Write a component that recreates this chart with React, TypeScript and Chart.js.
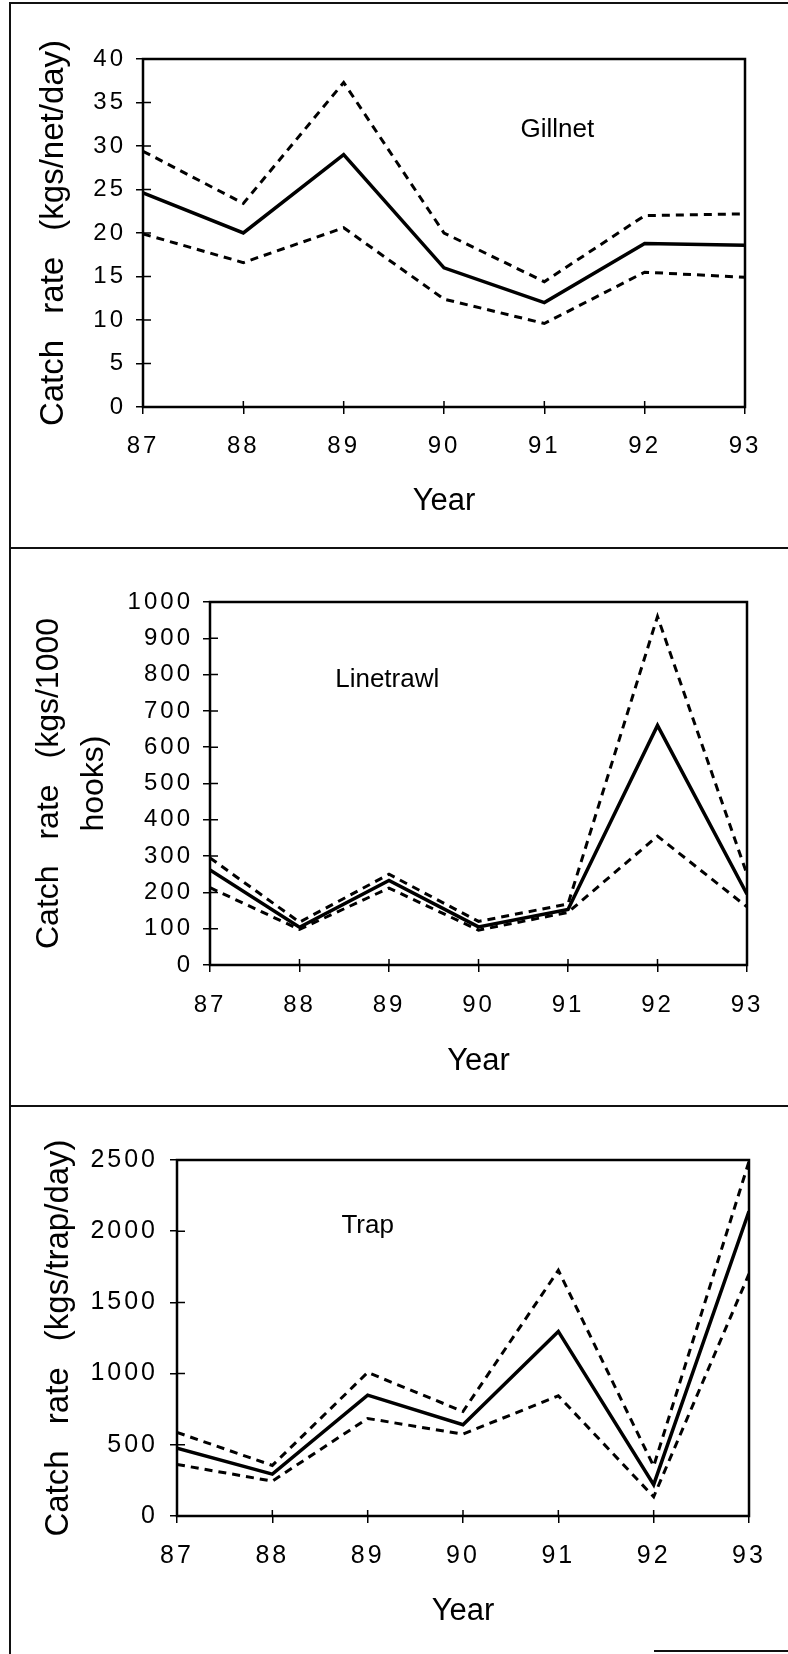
import React, { useEffect, useRef } from 'react';
import { Chart, registerables } from 'chart.js';

Chart.register(...registerables);

const FONT = "'Liberation Sans', Arial, Helvetica, sans-serif";

// ---- data ----
const YEARS = [87, 88, 89, 90, 91, 92, 93];

const GILLNET_Y_TICKS = [0, 5, 10, 15, 20, 25, 30, 35, 40];
const GILLNET_MEAN = [24.6, 20.0, 29.0, 16.0, 12.0, 18.8, 18.6];
const GILLNET_UPPER = [29.4, 23.4, 37.3, 20.0, 14.4, 22.0, 22.2];
const GILLNET_LOWER = [19.9, 16.6, 20.6, 12.4, 9.6, 15.5, 14.9];

const LINETRAWL_Y_TICKS = [0, 100, 200, 300, 400, 500, 600, 700, 800, 900, 1000];
const LINETRAWL_MEAN = [262, 104, 233, 105, 153, 660, 195];
const LINETRAWL_UPPER = [295, 118, 250, 120, 168, 960, 250];
const LINETRAWL_LOWER = [213, 98, 212, 96, 145, 355, 160];

const TRAP_Y_TICKS = [0, 500, 1000, 1500, 2000, 2500];
const TRAP_MEAN = [477, 294, 849, 641, 1296, 220, 2140];
const TRAP_UPPER = [587, 355, 1008, 734, 1725, 350, 2490];
const TRAP_LOWER = [362, 245, 685, 575, 844, 135, 1700];

// ---- panel layout (page pixels) ----
const PANELS = [
  {
    key: 'gillnet', top: 4, height: 543,
    plotTop: 59, plotBottom: 407, plotLeft: 143, plotRight: 745,
    mean: GILLNET_MEAN, upper: GILLNET_UPPER, lower: GILLNET_LOWER,
    yTicks: GILLNET_Y_TICKS,
    yTitle: 'Catch rate (kgs/net/day)', yTitleSize: 33, yTitleLH: 1.2, yTitlePad: 34,
    wordSpacing: 17, xTitlePad: 27, xTickPad: 18, yTickPad: 10, tickSize: 24,
    label: 'Gillnet', labelX: 91.13, labelY: 31.9,
  },
  {
    key: 'linetrawl', top: 549, height: 556,
    plotTop: 602, plotBottom: 965, plotLeft: 210, plotRight: 747,
    mean: LINETRAWL_MEAN, upper: LINETRAWL_UPPER, lower: LINETRAWL_LOWER,
    yTicks: LINETRAWL_Y_TICKS,
    yTitle: ['Catch rate (kgs/1000', 'hooks)'], yTitleSize: 32, yTitleLH: 1.4, yTitlePad: 27,
    wordSpacing: 17, xTitlePad: 25, xTickPad: 19, yTickPad: 10, tickSize: 24,
    label: 'Linetrawl', labelX: 88.98, labelY: 785,
  },
  {
    key: 'trap', top: 1107, height: 547,
    plotTop: 1160, plotBottom: 1516, plotLeft: 177, plotRight: 749,
    mean: TRAP_MEAN, upper: TRAP_UPPER, lower: TRAP_LOWER,
    yTicks: TRAP_Y_TICKS,
    yTitle: 'Catch rate (kgs/trap/day)', yTitleSize: 33, yTitleLH: 1.2, yTitlePad: 39,
    wordSpacing: 17, xTitlePad: 24, xTickPad: 18, yTickPad: 12, tickSize: 25,
    label: 'Trap', labelX: 89.0, labelY: 2036,
  },
];

const decorPlugin = {
  id: 'panelDecor',
  beforeDraw(chart: any, _args: any, opts: any) {
    const ctx = chart.ctx as any;
    ctx.letterSpacing = '0px';
    ctx.wordSpacing = (opts.wordSpacing || 0) + 'px';
  },
  afterDatasetsDraw(chart: any) {
    const ctx = chart.ctx as any;
    const a = chart.chartArea;
    const xs = chart.scales.x;
    const ys = chart.scales.y;
    ctx.save();
    ctx.strokeStyle = '#000';
    ctx.lineWidth = 2.5;
    ctx.strokeRect(a.left, a.top, a.right - a.left, a.bottom - a.top);
    ctx.lineWidth = 1.5;
    ctx.beginPath();
    xs.ticks.forEach((t: any) => {
      const px = xs.getPixelForValue(t.value);
      ctx.moveTo(px, a.bottom);
      ctx.lineTo(px, a.bottom - 6);
    });
    ys.ticks.forEach((t: any) => {
      const py = ys.getPixelForValue(t.value);
      ctx.moveTo(a.left, py);
      ctx.lineTo(a.left + 8, py);
    });
    ctx.stroke();
    ctx.restore();
    ctx.wordSpacing = '0px';
    ctx.letterSpacing = '3px';
  },
  afterDraw(chart: any, _args: any, opts: any) {
    const ctx = chart.ctx as any;
    ctx.letterSpacing = '0px';
    ctx.wordSpacing = '0px';
    if (!opts.label) return;
    ctx.save();
    ctx.fillStyle = '#000';
    ctx.font = `26px ${FONT}`;
    ctx.textAlign = 'center';
    ctx.textBaseline = 'middle';
    ctx.fillText(
      opts.label,
      chart.scales.x.getPixelForValue(opts.labelX),
      chart.scales.y.getPixelForValue(opts.labelY)
    );
    ctx.restore();
  },
};

function makeConfig(p: any): any {
  const ds = (vals: number[], dash: number[], width: number) => ({
    data: YEARS.map((x, i) => ({ x, y: vals[i] })),
    borderColor: '#000',
    borderWidth: width,
    borderDash: dash,
    borderCapStyle: 'butt',
    borderJoinStyle: 'miter',
    pointRadius: 0,
    tension: 0,
    fill: false,
  });
  const gridOpts = {
    display: true,
    drawOnChartArea: false,
    drawTicks: true,
    tickLength: 7,
    tickWidth: 1.5,
    tickColor: '#000',
    color: '#000',
    lineWidth: 1.5,
  };
  return {
    type: 'line',
    data: {
      datasets: [ds(p.upper, [8, 6], 3), ds(p.mean, [], 3.5), ds(p.lower, [8, 6], 3)],
    },
    options: {
      responsive: false,
      animation: false,
      devicePixelRatio: 1,
      layout: { padding: { left: 0, right: 788 - p.plotRight, top: p.plotTop - p.top, bottom: 0 } },
      plugins: {
        legend: { display: false },
        tooltip: { enabled: false },
        panelDecor: { label: p.label, labelX: p.labelX, labelY: p.labelY, wordSpacing: p.wordSpacing },
      },
      scales: {
        x: {
          type: 'linear',
          min: YEARS[0],
          max: YEARS[YEARS.length - 1],
          afterBuildTicks: (s: any) => { s.ticks = YEARS.map((v) => ({ value: v })); },
          afterFit: (s: any) => { s.height = p.height - (p.plotBottom - p.top); },
          grid: gridOpts,
          border: { display: false },
          ticks: {
            z: 1,
            padding: p.xTickPad,
            color: '#000',
            font: { family: FONT, size: p.tickSize },
            maxRotation: 0,
            autoSkip: false,
            callback: (v: any) => String(v),
          },
          title: {
            display: true,
            text: 'Year',
            color: '#000',
            font: { family: FONT, size: 31 },
            padding: { top: 0, bottom: p.xTitlePad },
          },
        },
        y: {
          type: 'linear',
          min: p.yTicks[0],
          max: p.yTicks[p.yTicks.length - 1],
          afterBuildTicks: (s: any) => { s.ticks = p.yTicks.map((v: number) => ({ value: v })); },
          afterFit: (s: any) => { s.width = p.plotLeft; },
          grid: gridOpts,
          border: { display: false },
          ticks: {
            z: 1,
            padding: p.yTickPad,
            color: '#000',
            font: { family: FONT, size: p.tickSize },
            autoSkip: false,
            callback: (v: any) => String(v),
          },
          title: {
            display: true,
            text: p.yTitle,
            color: '#000',
            font: { family: FONT, size: p.yTitleSize, lineHeight: p.yTitleLH },
            padding: { top: p.yTitlePad, bottom: 0 },
          },
        },
      },
    },
    plugins: [decorPlugin],
  };
}

function Panel({ p }: { p: any }) {
  const ref = useRef<HTMLCanvasElement | null>(null);
  useEffect(() => {
    if (!ref.current) return;
    const chart = new Chart(ref.current, makeConfig(p));
    return () => chart.destroy();
  }, [p]);
  return (
    <canvas
      ref={ref}
      width={788}
      height={p.height}
      style={{ position: 'absolute', left: 0, top: p.top, width: 788, height: p.height, display: 'block' }}
    />
  );
}

const line = (left: number, top: number, width: number, height: number) => ({
  position: 'absolute' as const,
  left,
  top,
  width,
  height,
  background: '#111',
  zIndex: 2,
});

export default function App() {
  return (
    <div
      style={{
        position: 'absolute',
        left: 0,
        top: 0,
        width: 788,
        height: 1654,
        overflow: 'hidden',
        background: '#fff',
      }}
    >
      {PANELS.map((p) => (
        <Panel key={p.key} p={p} />
      ))}
      <div style={line(9, 2, 779, 2)} />
      <div style={line(9, 2, 2, 1652)} />
      <div style={line(9, 547, 779, 2)} />
      <div style={line(9, 1105, 779, 2)} />
      <div style={line(654, 1650, 134, 2)} />
    </div>
  );
}
